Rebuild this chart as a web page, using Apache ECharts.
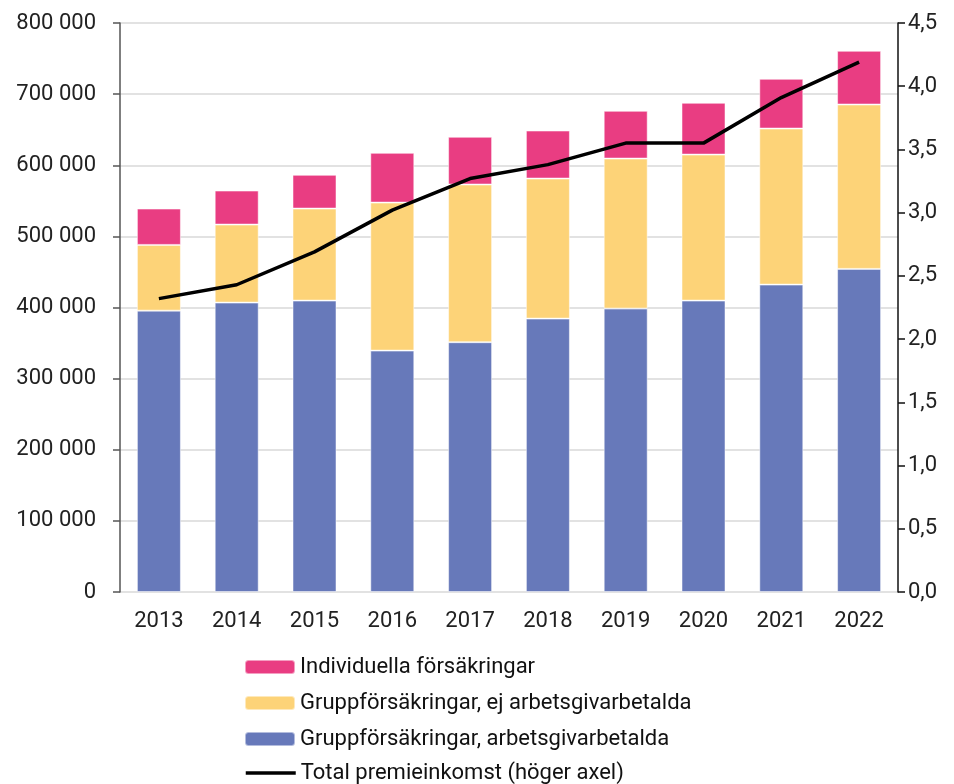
<!DOCTYPE html>
<html><head><meta charset="utf-8">
<script src="https://cdn.jsdelivr.net/npm/echarts@6/dist/echarts.min.js"></script>
<style>html,body{margin:0;padding:0;background:#fff}#c{width:954px;height:784px}</style>
</head><body><div id="c"></div>
<script>
const years = ['2013','2014','2015','2016','2017','2018','2019','2020','2021','2022'];
const gruppArbetsgivare = [395600, 406900, 409700, 339400, 351200, 384400, 398500, 409700, 432200, 454300];
const gruppEjArbetsgivare = [92400, 109700, 129400, 208100, 221700, 196900, 210900, 205300, 219400, 231100];
const individuella = [51100, 47800, 47400, 69900, 67100, 67500, 67100, 72800, 69900, 75500];
const totalPremie = [2.32, 2.43, 2.69, 3.02, 3.27, 3.38, 3.55, 3.55, 3.91, 4.19];
const names = ['Individuella försäkringar','Gruppförsäkringar, ej arbetsgivarbetalda','Gruppförsäkringar, arbetsgivarbetalda','Total premieinkomst (höger axel)'];

const font = 'Roboto, "Liberation Sans", sans-serif';
const legendTops = [656, 692, 728, 762];
const legends = names.map((n, i) => ({
  orient: 'vertical', left: 244, top: legendTops[i], padding: 0,
  itemWidth: 50, itemHeight: 14, selectedMode: false,
  data: [i === 3 ? {name: n, itemStyle: {opacity: 0}, lineStyle: {width: 3.5, color: '#000'}} : n],
  textStyle: {fontSize: 22, color: '#111', fontFamily: font}
}));

const chart = echarts.init(document.getElementById('c'));
chart.setOption({
  animation: false,
  textStyle: {fontFamily: font},
  grid: {left: 120, right: 56, top: 23, bottom: 192},
  legend: legends,
  xAxis: {
    type: 'category', data: years,
    axisLine: {show: false}, axisTick: {show: false},
    axisLabel: {fontSize: 22, color: '#222', margin: 18}
  },
  yAxis: [{
    type: 'value', min: 0, max: 800000, interval: 100000,
    axisLine: {show: true, lineStyle: {color: '#555', width: 1.5}},
    axisTick: {show: true, length: 7, lineStyle: {color: '#555', width: 1.5}},
    splitLine: {lineStyle: {color: '#d9d9d9', width: 1.5}},
    axisLabel: {fontSize: 22, color: '#222', margin: 24,
      formatter: v => v === 0 ? '0' : String(v).replace(/\B(?=(\d{3})+(?!\d))/g, ' ')}
  }, {
    type: 'value', min: 0, max: 4.5, interval: 0.5,
    axisLine: {show: true, lineStyle: {color: '#111', width: 1.5}},
    axisTick: {show: true, length: 7, lineStyle: {color: '#111', width: 1.5}},
    splitLine: {show: false},
    axisLabel: {fontSize: 22, color: '#222', margin: 10,
      formatter: v => v.toFixed(1).replace('.', ',')}
  }],
  series: [
    {name: names[2], type: 'bar', stack: 's', data: gruppArbetsgivare, barWidth: 44,
     itemStyle: {color: '#6779BA', borderColor: 'rgba(255,255,255,0.5)', borderWidth: 1}},
    {name: names[1], type: 'bar', stack: 's', data: gruppEjArbetsgivare, barWidth: 44,
     itemStyle: {color: '#FDD378', borderColor: 'rgba(255,255,255,0.5)', borderWidth: 1}},
    {name: names[0], type: 'bar', stack: 's', data: individuella, barWidth: 44,
     itemStyle: {color: '#E93D82', borderColor: 'rgba(255,255,255,0.5)', borderWidth: 1}},
    {name: names[3], type: 'line', yAxisIndex: 1, data: totalPremie, symbol: 'none',
     z: 10, lineStyle: {color: '#000', width: 3.5}, itemStyle: {color: '#000'}}
  ]
});
</script></body></html>
